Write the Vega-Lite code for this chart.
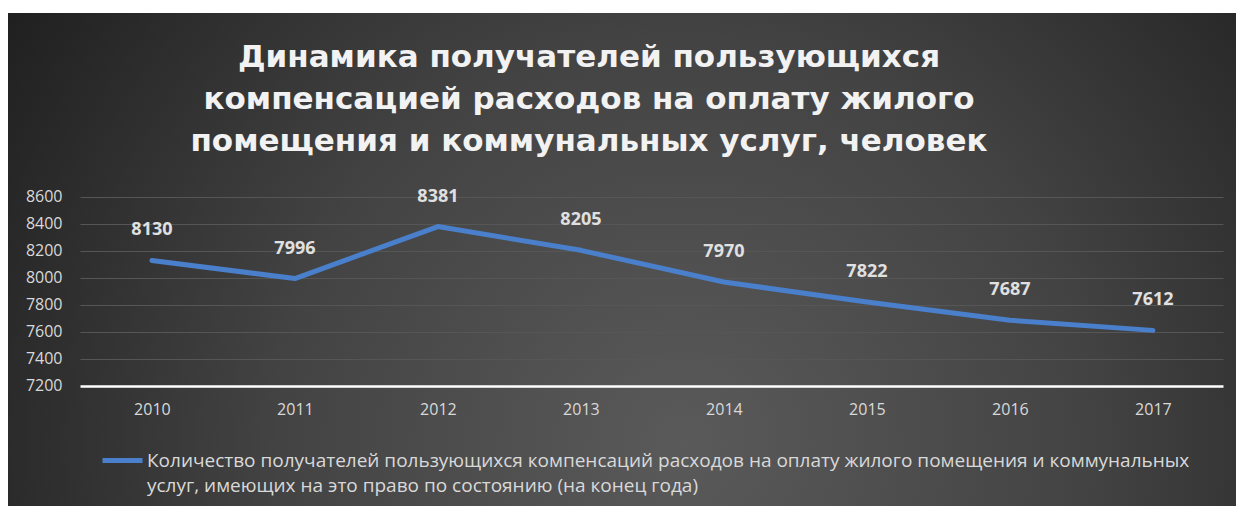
{
  "$schema": "https://vega.github.io/schema/vega-lite/v6.json",
  "width": 1228,
  "height": 493,
  "autosize": {"type": "none"},
  "padding": {"left": 8, "top": 13, "right": 0, "bottom": 0},
  "background": "#ffffff",
  "view": {
    "stroke": null,
    "fill": {
      "gradient": "radial",
      "x1": 0.55, "y1": 0.65, "r1": 0,
      "x2": 0.55, "y2": 0.65, "r2": 0.66,
      "stops": [
        {"offset": 0, "color": "#5a5a5a"},
        {"offset": 0.5, "color": "#434343"},
        {"offset": 1, "color": "#1f1f1f"}
      ]
    }
  },
  "config": {
    "style": {"guide-label": {"lineHeight": 25}}
  },
  "title": {
    "text": ["Динамика получателей пользующихся", "компенсацией расходов на оплату жилого", "помещения и коммунальных услуг, человек"],
    "font": "DejaVu Sans",
    "fontSize": 31,
    "fontWeight": "bold",
    "color": "#f2f2f2",
    "lineHeight": 42,
    "anchor": "middle",
    "baseline": "top",
    "offset": 0,
    "dx": -33,
    "dy": 145
  },
  "data": {
    "values": [
      {"year": "2010", "value": 8130, "series": "Количество получателей пользующихся компенсаций расходов на оплату жилого помещения и коммунальных услуг, имеющих на это право по состоянию (на конец года)"},
      {"year": "2011", "value": 7996, "series": "Количество получателей пользующихся компенсаций расходов на оплату жилого помещения и коммунальных услуг, имеющих на это право по состоянию (на конец года)"},
      {"year": "2012", "value": 8381, "series": "Количество получателей пользующихся компенсаций расходов на оплату жилого помещения и коммунальных услуг, имеющих на это право по состоянию (на конец года)"},
      {"year": "2013", "value": 8205, "series": "Количество получателей пользующихся компенсаций расходов на оплату жилого помещения и коммунальных услуг, имеющих на это право по состоянию (на конец года)"},
      {"year": "2014", "value": 7970, "series": "Количество получателей пользующихся компенсаций расходов на оплату жилого помещения и коммунальных услуг, имеющих на это право по состоянию (на конец года)"},
      {"year": "2015", "value": 7822, "series": "Количество получателей пользующихся компенсаций расходов на оплату жилого помещения и коммунальных услуг, имеющих на это право по состоянию (на конец года)"},
      {"year": "2016", "value": 7687, "series": "Количество получателей пользующихся компенсаций расходов на оплату жилого помещения и коммунальных услуг, имеющих на это право по состоянию (на конец года)"},
      {"year": "2017", "value": 7612, "series": "Количество получателей пользующихся компенсаций расходов на оплату жилого помещения и коммунальных услуг, имеющих на это право по состоянию (на конец года)"}
    ]
  },
  "encoding": {
    "x": {
      "field": "year",
      "type": "ordinal",
      "scale": {"type": "point", "padding": 0.7937, "align": 0.634},
      "axis": {
        "title": null,
        "domain": false,
        "ticks": false,
        "tickSize": 0,
        "grid": false,
        "labelAngle": 0,
        "labelPadding": -105,
        "labelFont": "Open Sans",
        "labelFontSize": 16,
        "labelColor": "#d9d9d9"
      }
    },
    "y": {
      "field": "value",
      "type": "quantitative",
      "scale": {"domain": [6311, 9963], "nice": false, "zero": false},
      "axis": {
        "title": null,
        "values": [7200, 7400, 7600, 7800, 8000, 8200, 8400, 8600],
        "format": "d",
        "domain": false,
        "ticks": false,
        "tickSize": 0,
        "labelPadding": -54,
        "labelAlign": "right",
        "labelFont": "Open Sans",
        "labelFontSize": 16,
        "labelColor": "#d9d9d9",
        "grid": true,
        "gridColor": {"condition": {"test": "datum.value === 7200", "value": "#ffffff"}, "value": "#565656"},
        "gridWidth": {"condition": {"test": "datum.value === 7200", "value": 2.5}, "value": 1},
        "gridDash": [0, 72, 1143, 3000]
      }
    }
  },
  "layer": [
    {
      "mark": {"type": "line", "strokeWidth": 5, "strokeJoin": "round", "strokeCap": "round"},
      "encoding": {
        "color": {
          "field": "series",
          "type": "nominal",
          "scale": {"range": ["#4a7fcb"]},
          "legend": {
            "orient": "none",
            "legendX": 92,
            "legendY": 425,
            "title": null,
            "symbolType": "stroke",
            "symbolStrokeWidth": 5,
            "symbolSize": 1600,
            "symbolOffset": 0,
            "labelOffset": 2,
            "labelFont": "Open Sans",
            "labelFontSize": 19,
            "labelColor": "#d9d9d9",
            "labelLimit": 1200,
            "labelBaseline": "middle",
            "labelExpr": "[substring(datum.label, 0, indexof(datum.label, ' услуг')), substring(datum.label, indexof(datum.label, ' услуг') + 1)]"
          }
        }
      }
    },
    {
      "mark": {"type": "text", "dy": -30, "font": "Open Sans", "fontSize": 18, "fontWeight": "bold", "color": "#e0e0e0"},
      "encoding": {"text": {"field": "value", "type": "quantitative", "format": "d"}}
    }
  ]
}
